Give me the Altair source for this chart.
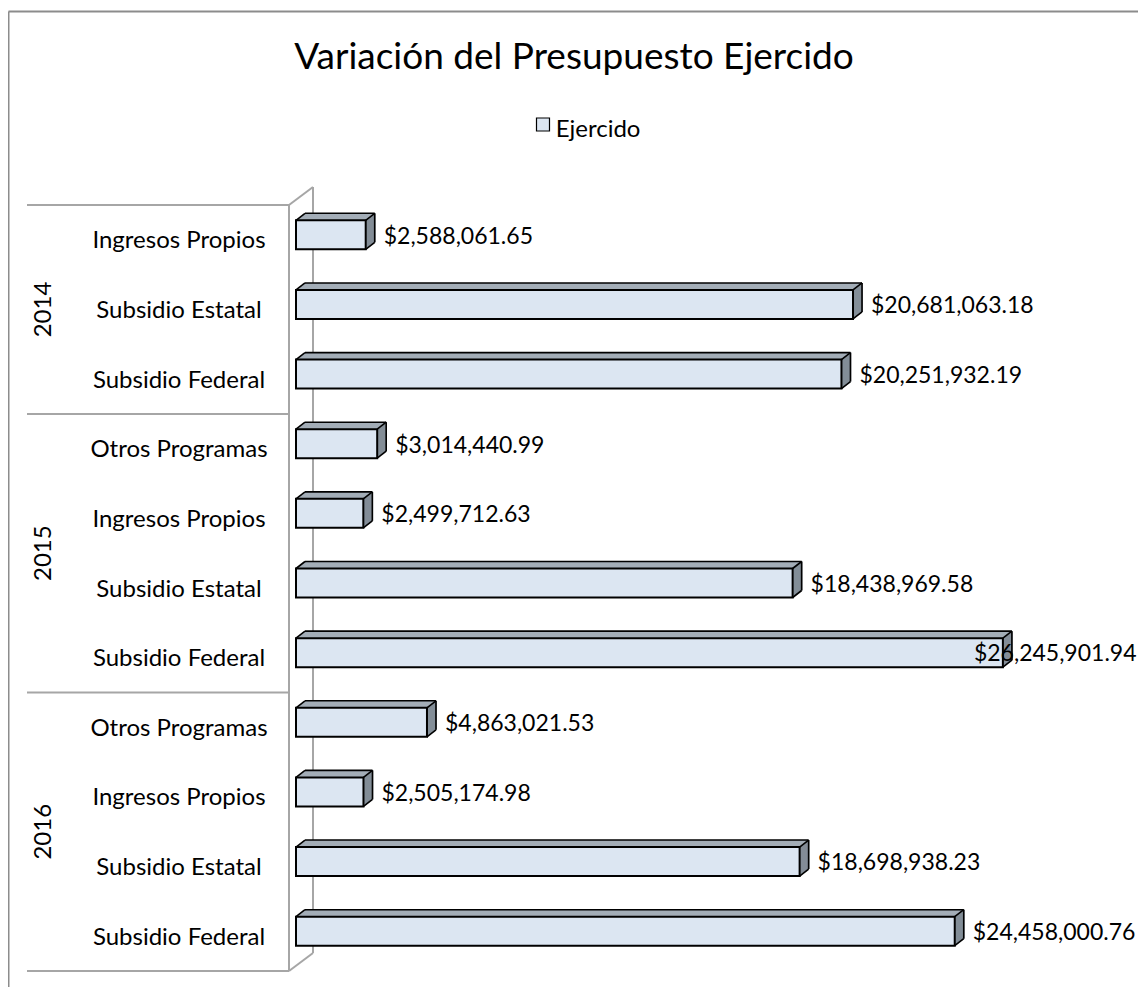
import altair as alt
import pandas as pd

title_text = "Variación del Presupuesto Ejercido"
legend_label = "Ejercido"
years = ["2014", "2014", "2014", "2015", "2015", "2015", "2015", "2016", "2016", "2016", "2016"]
categories = ["Ingresos Propios", "Subsidio Estatal", "Subsidio Federal",
              "Otros Programas", "Ingresos Propios", "Subsidio Estatal", "Subsidio Federal",
              "Otros Programas", "Ingresos Propios", "Subsidio Estatal", "Subsidio Federal"]
values = [2588061.65, 20681063.18, 20251932.19,
          3014440.99, 2499712.63, 18438969.58, 26245901.94,
          4863021.53, 2505174.98, 18698938.23, 24458000.76]

FONT = "Lato"
FS = 24
FSV = 23
FRONT = "#DCE6F2"
TOP = "#A3ADB7"
SIDE = "#838D97"
GRID = "#A6A6A6"

df = pd.DataFrame({"year": years, "cat": categories, "value": values})
df["yc"] = [i + 0.5 for i in range(len(df))]
df["zero"] = 0.0
n = len(df)

bounds = []
for i, y in enumerate(years):
    if i == 0 or years[i - 1] != y:
        bounds.append(i)
bounds.append(n)
seps = pd.DataFrame({"yb": bounds})

xs = alt.Scale(domain=[0, 30000000], nice=False, zero=True)
ys = alt.Scale(domain=[0, n], reverse=True, nice=False, zero=False)

def X(f="value"):
    return alt.X(f"{f}:Q", scale=xs, axis=None)

def Y(f="yc"):
    return alt.Y(f"{f}:Q", scale=ys, axis=None)

base = alt.Chart(df)
layers = []

one = alt.Chart(pd.DataFrame({"t": [title_text]}))
# chart frame (left and top border)
layers.append(one.mark_rule(color="#8C8C8C", strokeWidth=2).encode(
    x=alt.value(-287.5), y=alt.value(-193.5), y2=alt.value(800)))
layers.append(one.mark_rule(color="#8C8C8C", strokeWidth=2).encode(
    x=alt.value(-287.5), x2=alt.value(860), y=alt.value(-193.5)))

# 3D wall / floor lines
wall = dict(color=GRID, strokeWidth=2)
layers.append(one.mark_rule(**wall).encode(x=alt.value(17), y=alt.value(-18), y2=alt.value(748)))
layers.append(one.mark_rule(**wall).encode(x=alt.value(-7), y=alt.value(0), y2=alt.value(766)))
layers.append(one.mark_rule(**wall).encode(x=alt.value(-7), x2=alt.value(17),
                                           y=alt.value(0), y2=alt.value(-18)))
layers.append(one.mark_rule(**wall).encode(x=alt.value(-7), x2=alt.value(17),
                                           y=alt.value(766), y2=alt.value(748)))

# group separators
layers.append(alt.Chart(seps).mark_rule(**wall).encode(
    x=alt.value(-269), x2=alt.value(-7), y=Y("yb")))

# 3D top face sweep
for k in range(1, 10):
    dy = -7.0 * k / 9.0
    layers.append(base.mark_rect(fill=TOP, xOffset=k, x2Offset=k,
                                 yOffset=-19.5 + dy, y2Offset=9.5 + dy).encode(
        x=X(), x2=alt.X2("zero"), y=Y(), y2=alt.Y2("yc")))
# 3D side face sweep
for k in range(1, 10):
    dy = -7.0 * k / 9.0
    layers.append(base.mark_rule(stroke=SIDE, strokeWidth=1.6, xOffset=k, x2Offset=k,
                                 yOffset=-19.5 + dy, y2Offset=9.5 + dy).encode(
        x=X(), y=Y(), y2=alt.Y2("yc")))

edge = dict(stroke="black", strokeWidth=1.6)
# back top edge
layers.append(base.mark_rule(xOffset=9, x2Offset=9, yOffset=-26.5, **edge).encode(
    x=X("zero"), x2=alt.X2("value"), y=Y()))
# back right edge
layers.append(base.mark_rule(xOffset=9, x2Offset=9, yOffset=-26.5, y2Offset=2.5, **edge).encode(
    x=X(), y=Y(), y2=alt.Y2("yc")))
# diagonals
layers.append(base.mark_rule(x2Offset=9, yOffset=-19.5, y2Offset=-26.5, **edge).encode(
    x=X("zero"), x2=alt.X2("zero"), y=Y(), y2=alt.Y2("yc")))
layers.append(base.mark_rule(x2Offset=9, yOffset=-19.5, y2Offset=-26.5, **edge).encode(
    x=X(), x2=alt.X2("value"), y=Y(), y2=alt.Y2("yc")))
layers.append(base.mark_rule(x2Offset=9, yOffset=9.5, y2Offset=2.5, **edge).encode(
    x=X(), x2=alt.X2("value"), y=Y(), y2=alt.Y2("yc")))

# front face
layers.append(base.mark_rect(fill=FRONT, stroke="black", strokeWidth=2,
                             yOffset=-19.5, y2Offset=9.5).encode(
    x=X(), x2=alt.X2("zero"), y=Y(), y2=alt.Y2("yc")))

# value labels
lab = base.transform_calculate(label="'$' + format(datum.value, ',.2f')")
layers.append(lab.transform_filter("datum.value < 25000000").mark_text(
    font=FONT, fontSize=FSV, align="left", baseline="alphabetic", dx=18, dy=3.8, color="black").encode(
    x=X(), y=Y(), text="label:N"))
layers.append(lab.transform_filter("datum.value >= 25000000").mark_text(
    font=FONT, fontSize=FSV, align="left", baseline="alphabetic", dx=-29, dy=3.8, color="black").encode(
    x=X(), y=Y(), text="label:N"))

# category labels
layers.append(base.mark_text(font=FONT, fontSize=FS, align="center", baseline="alphabetic",
                             dy=8.5, color="black").encode(
    x=alt.value(-117), y=Y(), text="cat:N"))

# year labels
layers.append(base.transform_aggregate(ym="mean(yc)", groupby=["year"]).mark_text(
    font=FONT, fontSize=FS, angle=270, align="center", baseline="middle", color="black").encode(
    x=alt.value(-252), y=Y("ym"), text="year:N"))

# title
layers.append(one.mark_text(font=FONT, fontSize=37, align="center", baseline="alphabetic",
                            color="black").encode(
    x=alt.value(278), y=alt.value(-135.7), text="t:N"))

# legend
leg = alt.Chart(pd.DataFrame({"s": [legend_label]}))
layers.append(leg.mark_square(size=169, fill=FRONT, stroke="black", strokeWidth=1.2, opacity=1).encode(
    x=alt.value(247), y=alt.value(-80.5)))
layers.append(leg.mark_text(font=FONT, fontSize=FS, align="left", baseline="alphabetic",
                            color="black").encode(
    x=alt.value(259.7), y=alt.value(-68.3), text="s:N"))

chart = alt.layer(*layers).properties(
    width=808, height=766,
    padding={"left": 288, "top": 197, "right": 34, "bottom": 16},
    autosize=alt.AutoSizeParams(type="none"),
).configure_view(stroke=None)

chart.save("out.html", embed_options={"renderer": "svg", "actions": False})
